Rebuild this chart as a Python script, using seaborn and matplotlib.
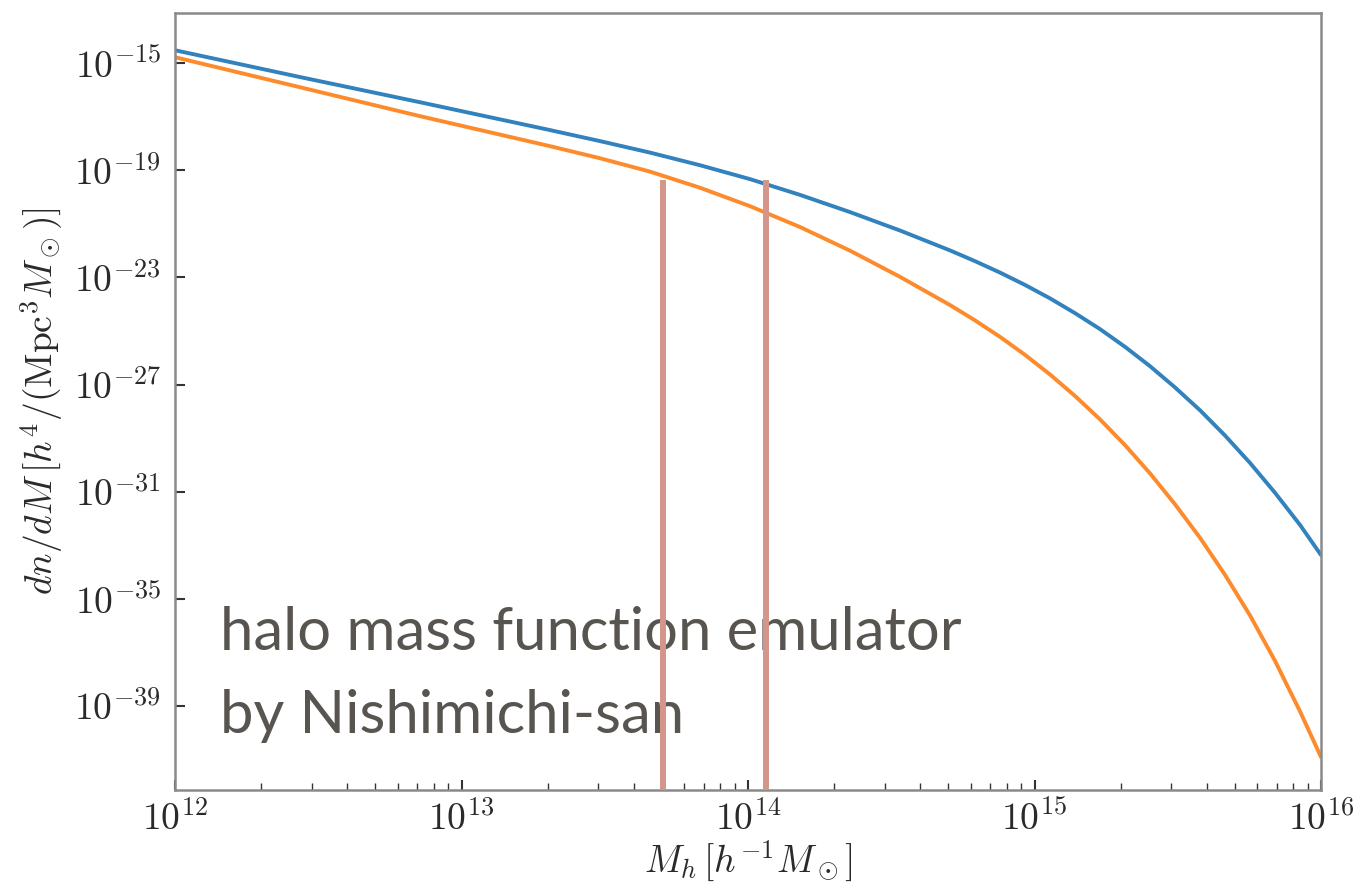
import numpy as np
import pandas as pd
import matplotlib
matplotlib.use("Agg")
import matplotlib.pyplot as plt
import matplotlib.ticker as mticker
import seaborn as sns

# ---- data (log10 values) ----
log_mass = [12.000, 12.436, 12.855, 13.309, 13.483, 13.658, 13.832, 14.007, 14.182, 14.356,
            14.531, 14.705, 14.792, 14.880, 14.967, 15.054, 15.141, 15.229, 15.316, 15.403,
            15.490, 15.578, 15.665, 15.752, 15.839, 15.927, 16.000]
log_dndm_blue = [-14.52, -15.52, -16.46, -17.50, -17.91, -18.34, -18.81, -19.33, -19.92, -20.56,
                 -21.25, -21.99, -22.39, -22.82, -23.28, -23.78, -24.33, -24.93, -25.59, -26.31,
                 -27.10, -27.96, -28.90, -29.92, -31.03, -32.24, -33.36]
log_dndm_orange = [-14.78, -15.90, -16.98, -18.10, -18.55, -19.05, -19.65, -20.34, -21.12, -22.00,
                   -22.98, -24.03, -24.60, -25.22, -25.89, -26.62, -27.42, -28.30, -29.26, -30.31,
                   -31.46, -32.72, -34.10, -35.61, -37.30, -39.20, -40.90]
series_names = ["emulator A", "emulator B"]
vline_mass = [5.05e13, 1.16e14]
vline_top = 10 ** -19.35
y_ticks = [1e-15, 1e-19, 1e-23, 1e-27, 1e-31, 1e-35, 1e-39]
x_ticks = [1e12, 1e13, 1e14, 1e15, 1e16]
overlay_lines = ["halo mass function emulator", "by Nishimichi-san"]

df = pd.DataFrame({
    "M": np.concatenate([10 ** np.array(log_mass)] * 2),
    "dndM": np.concatenate([10 ** np.array(log_dndm_blue), 10 ** np.array(log_dndm_orange)]),
    "series": [series_names[0]] * len(log_mass) + [series_names[1]] * len(log_mass),
})

sns.set_style("ticks")
plt.rcParams["mathtext.fontset"] = "cm"
plt.rcParams["font.family"] = ["DejaVu Sans"]

fig = plt.figure(figsize=(13.56, 8.83), dpi=100)
ax = fig.add_axes([175 / 1356, 1 - 790 / 883, (1321 - 175) / 1356, (790 - 13) / 883])

sns.lineplot(data=df, x="M", y="dndM", hue="series",
             palette=["#3182bd", "#fd8a2b"], linewidth=2.8, legend=False, ax=ax)
ax.set_xscale("log")
ax.set_yscale("log")
ax.set_xlim(1e12, 1e16)
ylo, yhi = 10 ** -42.13, 10 ** -13.13
ax.set_ylim(ylo, yhi)

ax.vlines(vline_mass, ylo, vline_top, colors="#d4968b", linewidth=4.3, zorder=4)

ax.yaxis.set_major_locator(mticker.FixedLocator(y_ticks))
ax.yaxis.set_minor_locator(mticker.NullLocator())
ax.xaxis.set_major_locator(mticker.FixedLocator(x_ticks))
ax.xaxis.set_minor_locator(mticker.LogLocator(base=10, subs=np.arange(2, 10), numticks=20))
fmt = mticker.FuncFormatter(lambda v, p: r"$10^{%d}$" % int(round(np.log10(v))))
ax.yaxis.set_major_formatter(fmt)
ax.xaxis.set_major_formatter(fmt)

ax.tick_params(axis="both", which="major", direction="in", length=7, width=1.5,
               labelsize=27, labelcolor="#2a2a2a", color="#333333", pad=8)
ax.tick_params(axis="x", which="minor", direction="in", length=5, width=1.0, color="#333333")
ax.tick_params(axis="y", which="major", pad=10)

for sp in ax.spines.values():
    sp.set_color("#8a8a8a")
    sp.set_linewidth(1.8)

ax.set_xlabel(r"$M_h\,[h^{-1}M_\odot]$", fontsize=27, color="#2a2a2a", labelpad=0)
ax.set_ylabel(r"$dn/dM\,[h^4/(\mathrm{Mpc}^3M_\odot)]$", fontsize=27, color="#2a2a2a", labelpad=6)

ax.text(220 / 1356, 1 - 650 / 883, overlay_lines[0], transform=fig.transFigure, fontsize=43,
        family=["Lato", "DejaVu Sans"], color="#58544f", va="baseline", ha="left", zorder=1)
ax.text(220 / 1356, 1 - 733 / 883, overlay_lines[1], transform=fig.transFigure, fontsize=43,
        family=["Lato", "DejaVu Sans"], color="#58544f", va="baseline", ha="left", zorder=1)

fig.savefig("out.png", dpi=100, facecolor="white")
